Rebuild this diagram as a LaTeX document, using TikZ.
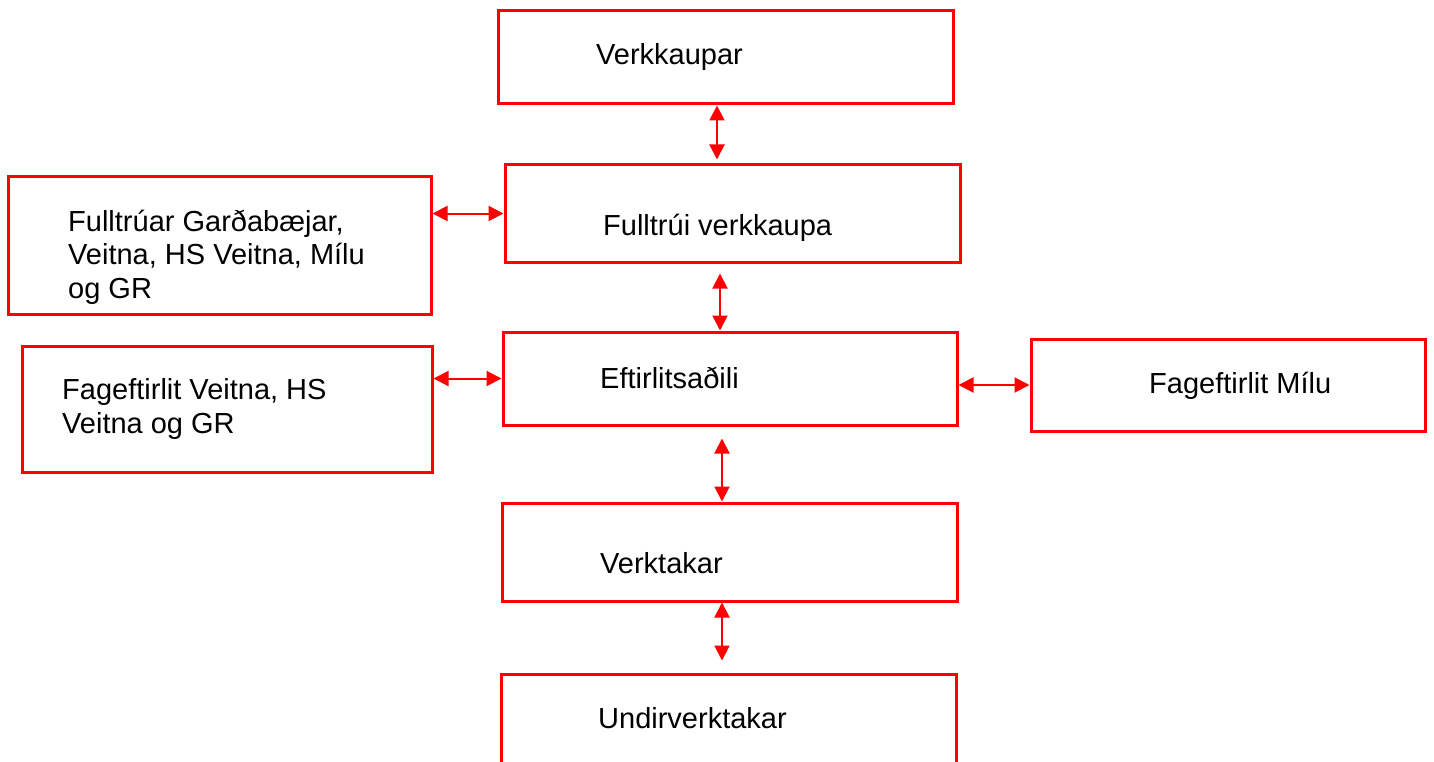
\documentclass[tikz,border=0pt]{standalone}
\usepackage{fontspec}
\setmainfont{Liberation Sans}
\usetikzlibrary{arrows.meta}
\begin{document}
\begin{tikzpicture}[x=1pt,y=-1pt]
        \clip (0,0) rectangle (1434,762);

        \begin{scope}[every node/.style={rectangle, draw=red, line width=3pt, inner sep=0pt}]
        \node[minimum width=455pt, minimum height=93pt] (vk) at (725.5,57.5) {};
        \node[minimum width=455pt, minimum height=97pt] (fv) at (732.5,213.5) {};
        \node[minimum width=423pt, minimum height=137pt] (fg) at (219.5,245.5) {};
        \node[minimum width=454pt, minimum height=93pt] (ef) at (730,378.5) {};
        \node[minimum width=410pt, minimum height=126pt] (fve) at (227,409) {};
        \node[minimum width=394pt, minimum height=92pt] (fm) at (1228,385) {};
        \node[minimum width=455pt, minimum height=98pt] (vt) at (729.5,552) {};
        \node[minimum width=455pt, minimum height=106pt] (uv) at (728.5,727) {};
        \end{scope}

        \begin{scope}[every node/.style={anchor=base west, inner sep=0pt, align=left, font=\fontsize{29}{33.5}\selectfont}]
        \node (vkt) at (596,65) {Verkkaupar};
        \node (fvt) at (603,235) {Fulltrúi verkkaupa};
        \node (eft) at (600,388) {Eftirlitsaðili};
        \node (fmt) at (1149,393) {Fageftirlit Mílu};
        \node (vtt) at (600,573) {Verktakar};
        \node (uvt) at (598,728) {Undirverktakar};
        \node (fvet) at (62,433) {Fageftirlit Veitna, HS\\Veitna og GR};
        \begin{scope}
        \clip (8,177) rectangle (431,303);
        \node (fgt) at (68,298) {Fulltrúar Garðabæjar,\\Veitna, HS Veitna, Mílu\\og GR};
        \end{scope}
        \end{scope}

        \begin{scope}[>={Triangle[width=15pt,length=15pt]}, red, line width=2pt]
        \path [<->] (vk.south -| 717,0) edge[shorten >=4pt] (fv.north -| 717,0);
        \path [<->] (fg.east |- fv.west) edge (fv.west);
        \path [<->] (fv.south -| 720,0) edge[shorten <=10pt] (ef.north -| 720,0);
        \path [<->] (fve.east |- ef.west) edge (ef.west);
        \path [<->] (ef.east |- fm.west) edge (fm.west);
        \path [<->] (ef.south -| 722,0) edge[shorten <=12pt] (vt.north -| 722,0);
        \path [<->] (vt.south -| 722,0) edge[shorten >=12pt] (uv.north -| 722,0);
        \end{scope}
    \end{tikzpicture}
\end{document}
